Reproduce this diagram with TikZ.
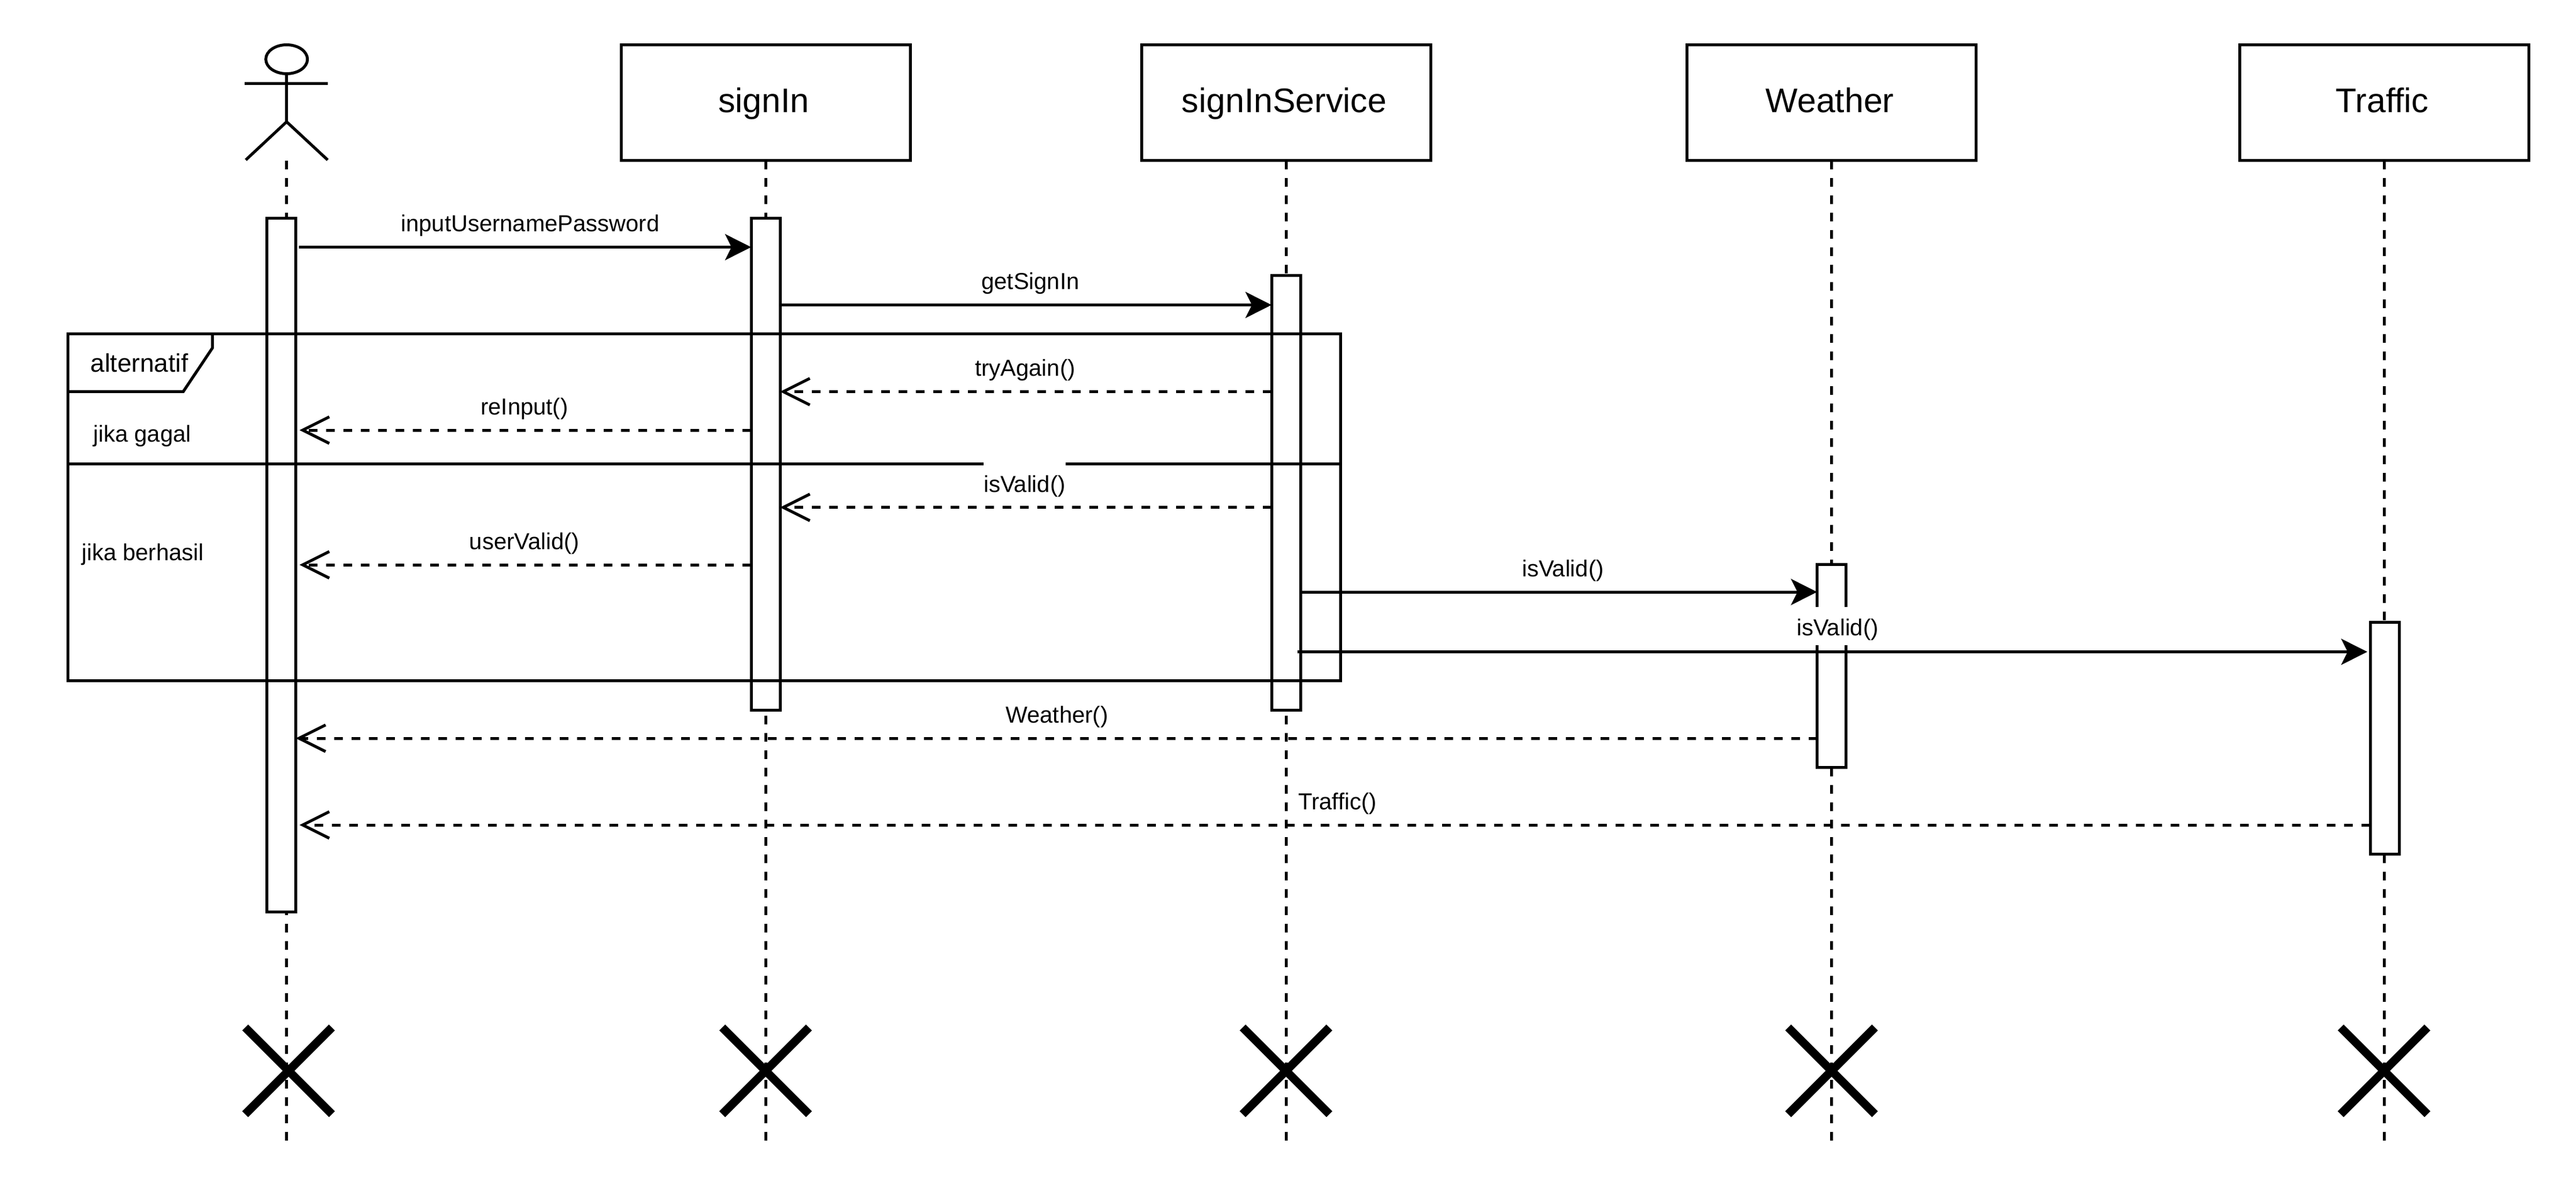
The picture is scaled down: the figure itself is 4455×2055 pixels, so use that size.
\documentclass[tikz,border=0pt]{standalone}
\usepackage{fontspec}
\setmainfont{Liberation Sans}
\usetikzlibrary{arrows.meta,shapes.geometric}
\tikzset{
  x=1pt,y=-1pt,
  ln/.style={line width=5pt,draw=black},
  headbox/.style={ln,fill=white,rectangle,inner sep=0pt,outer sep=0pt,minimum width=500pt,minimum height=200pt,font=\fontsize{59}{70}\selectfont,text height=45pt,text depth=10pt,execute at begin node={\kern-6pt}},
  actbox/.style={ln,fill=white,rectangle,inner sep=0pt,outer sep=0pt,minimum width=50pt},
  lifeline/.style={line width=5pt,draw=black,dash pattern=on 15pt off 15pt},
  call/.style={line width=5pt,draw=black,-{Stealth[length=45pt,width=45pt,inset=11pt]}},
  reply/.style={line width=5pt,draw=black,dash pattern=on 15pt off 15pt,-{Straight Barb[length=46pt,width=46pt,line width=5pt]}},
  msg/.style={font=\fontsize{40}{48}\selectfont,inner sep=0pt,outer sep=0pt,anchor=base},
  msgbg/.style={msg,fill=white},
  kill/.style={line width=14.4pt,draw=black},
}
\begin{document}
\begin{tikzpicture}
\useasboundingbox (0,0) rectangle (4455,2055);
% heads
\node[headbox] (bsign) at (1324,177.5) {signIn};
\node[headbox] (bserv) at (2224,177.5) {signInService};
\node[headbox] (bwea) at (3167.5,177.5) {Weather};
\node[headbox] (btra) at (4123,177.5) {Traffic};
% actor
\node[ln,ellipse,minimum width=72pt,minimum height=50pt,inner sep=0pt,outer sep=0pt] (head) at (495.7,102.5) {};
\coordinate (hip) at (495.7,210.7);
\coordinate (foot) at (495.7,277.5);
\coordinate (armL) at (423.3,144.3);
\coordinate (armR) at (567.3,144.3);
\coordinate (legL) at (425,276.7);
\coordinate (legR) at (566.7,276.7);
\draw[ln] (head.south) -- (hip);
\draw[ln] (armL) -- (armR);
\draw[ln] (legL) -- (hip) -- (legR);
% lifeline ends
\coordinate (eact) at (495.7,1972.5);
\coordinate (esign) at (1324,1972.5);
\coordinate (eserv) at (2224,1972.5);
\coordinate (ewea) at (3167.5,1972.5);
\coordinate (etra) at (4123,1972.5);
\draw[lifeline] (foot) -- (eact);
\draw[lifeline] (bsign.south) -- (esign);
\draw[lifeline] (bserv.south) -- (eserv);
\draw[lifeline] (bwea.south) -- (ewea);
\draw[lifeline] (btra.south) -- (etra);
% activations
\node[actbox,minimum height=1199.5pt] (aact) at (486.5,977.25) {};
\node[actbox,minimum height=850.5pt] (asign) at (1324,802.75) {};
\node[actbox,minimum height=751.5pt] (aserv) at (2224,852.25) {};
\node[actbox,minimum height=350.5pt] (awea) at (3167.5,1151.75) {};
\node[actbox,minimum height=400.5pt] (atra) at (4124,1277) {};
% frame
\node[ln,rectangle,inner sep=0pt,outer sep=0pt,minimum width=2201pt,minimum height=600pt] (frame) at (1217.5,877.3) {};
\draw[ln] (367.3,577.3) -- (367.3,602) -- (317,677.3) -- (frame.west |- 0,677.3);
\draw[ln] (frame.west |- 0,802.3) -- (frame.east |- 0,802.3);
\node[msg,font=\fontsize{44}{52}\selectfont] (talt) at (241,643.3) {alternatif};
\node[msg] (tgagal) at (246,764) {jika gagal};
\node[msg] (thasil) at (247,969.5) {jika berhasil};
% messages
\draw[call] (517,427.5) -- (asign.west |- 0,427.5);
\draw[call] (asign.east |- 0,527.5) -- (aserv.west |- 0,527.5);
\draw[reply] (aserv.west |- 0,677.5) -- (asign.east |- 0,677.5);
\draw[reply] (asign.west |- 0,744) -- (518,744);
\draw[reply] (aserv.west |- 0,877.7) -- (asign.east |- 0,877.7);
\draw[reply] (asign.west |- 0,977) -- (518,977);
\draw[call] (aserv.east |- 0,1024) -- (awea.west |- 0,1024);
\draw[call] (2243.5,1127.5) -- (4094,1127.5);
\draw[reply] (awea.west |- 0,1277) -- (aact.east |- 0,1277);
\draw[reply] (atra.west |- 0,1427) -- (518,1427);
% labels
\node[msg] (l1) at (917,400) {inputUsernamePassword};
\node[msg] (l2) at (1782,500.5) {getSignIn};
\node[msg] (l3) at (1773,650.5) {tryAgain()};
\node[msg] (l4) at (907,717) {reInput()};
\node[msgbg,text height=52pt,text depth=16pt] (l5) at (1772,851) {isValid()};
\node[msg] (l6) at (907,950) {userValid()};
\node[msg] (l7) at (2703,997) {isValid()};
\node[msgbg,text height=50pt,text depth=16pt] (l8) at (3178,1099.5) {isValid()};
\node[msg] (l9) at (1828,1250) {Weather()};
\node[msg] (l10) at (2313,1400) {Traffic()};
% destroy marks
\foreach \c in {499,1324,2224,3167.5,4123}{
  \draw[kill] (\c-75,1777.3) -- (\c+75,1927.3);
  \draw[kill] (\c+75,1777.3) -- (\c-75,1927.3);
}
\end{tikzpicture}
\end{document}
